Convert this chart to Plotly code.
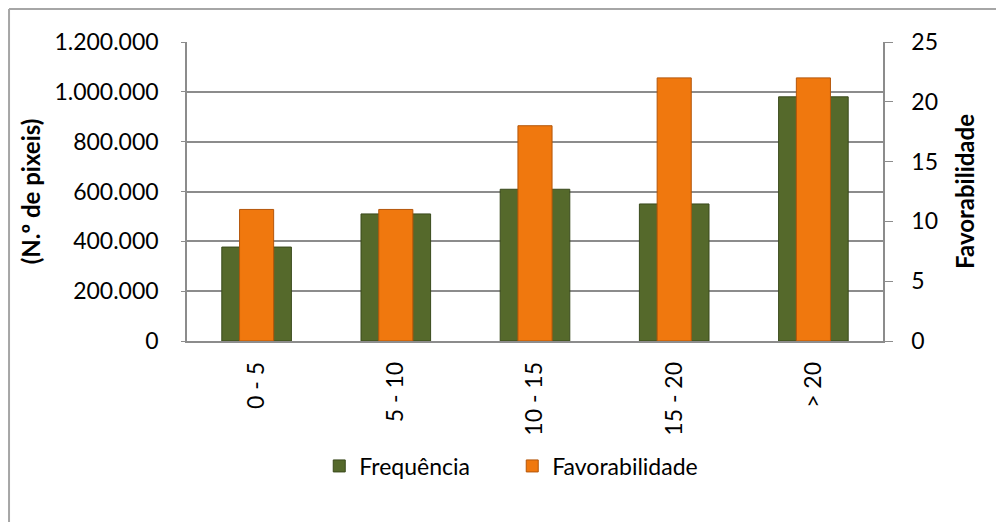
import plotly.graph_objects as go

categories = ["0 - 5", "5 - 10", "10 - 15", "15 - 20", "> 20"]
frequencia = [377000, 510000, 609000, 550000, 980000]
favorabilidade = [11, 11, 18, 22, 22]
left_ticks = [0, 200000, 400000, 600000, 800000, 1000000, 1200000]
left_labels = ["0", "200.000", "400.000", "600.000", "800.000", "1.000.000", "1.200.000"]
right_ticks = [0, 5, 10, 15, 20, 25]

FONT = "Lato"
GRID = "#8c8c8c"

fig = go.Figure()
fig.add_trace(go.Bar(
    x=categories, y=frequencia, name="Frequência", yaxis="y",
    width=0.5, marker=dict(color="#55692b", line=dict(color="#3a4a1c", width=1)),
))
fig.add_trace(go.Bar(
    x=categories, y=favorabilidade, name="Favorabilidade", yaxis="y2",
    width=0.245, marker=dict(color="#f0780e", line=dict(color="#b4560a", width=1)),
))

fig.update_layout(
    width=996, height=514,
    margin=dict(l=179, r=121, t=34, b=181),
    paper_bgcolor="white", plot_bgcolor="white",
    font=dict(family=FONT, size=23, color="#000000"),
    barmode="overlay",
    showlegend=True,
    legend=dict(orientation="h", x=0.19, xanchor="left", y=-0.418, yanchor="middle",
                font=dict(size=23), itemwidth=30, tracegroupgap=0, entrywidth=148),
    xaxis=dict(
        type="category", tickangle=-90, showgrid=False,
        showline=True, linecolor=GRID, linewidth=1.5,
        ticks="", tickfont=dict(size=23), ticklabelstandoff=10,
    ),
    yaxis=dict(
        range=[0, 1200000], tickvals=left_ticks, ticktext=left_labels,
        showgrid=True, gridcolor=GRID, gridwidth=1.5,
        showline=True, linecolor=GRID, linewidth=1.5,
        ticks="outside", ticklen=4, tickcolor=GRID, ticklabelstandoff=18,
        title=dict(text="<b>(N.º de pixeis)</b>", font=dict(size=24), standoff=7),
        zeroline=False,
    ),
    yaxis2=dict(
        range=[0, 25], tickvals=right_ticks, overlaying="y", side="right",
        showgrid=False, showline=True, linecolor=GRID, linewidth=1.5,
        ticks="outside", ticklen=8, tickcolor=GRID, ticklabelstandoff=14,
        title=dict(text="<b>Favorabilidade</b>", font=dict(size=24), standoff=20),
        zeroline=False,
    ),
    shapes=[
        dict(type="line", xref="paper", yref="paper", x0=-0.2557, x1=-0.2557, y0=-0.61, y1=1.11,
             line=dict(color="#a6a6a6", width=2)),
        dict(type="line", xref="paper", yref="paper", x0=-0.2557, x1=1.18, y0=1.11, y1=1.11,
             line=dict(color="#a6a6a6", width=2)),
    ],
)

fig.write_html("out.html")
